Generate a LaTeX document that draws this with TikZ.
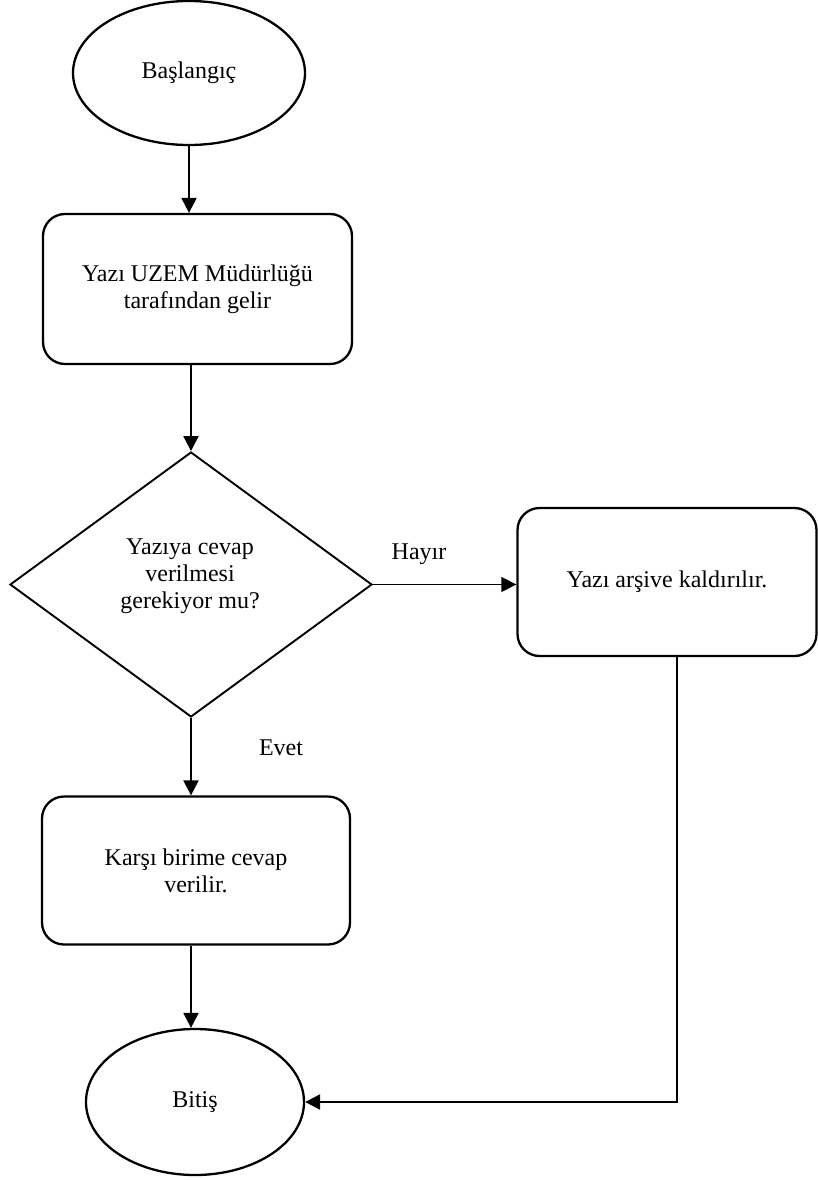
\documentclass[tikz,border=0pt]{standalone}
\usepackage{fontspec}
\setmainfont{Liberation Serif}
\usetikzlibrary{shapes.geometric,arrows.meta,calc}
\begin{document}
\begin{tikzpicture}[x=1pt,y=-1pt,
  every node/.style={font=\fontsize{24pt}{27pt}\selectfont, align=center, inner sep=0pt},
  term/.style={ellipse, draw, line width=2.3pt},
  procbox/.style={rectangle, draw, line width=2.3pt, rounded corners=22pt},
  decide/.style={diamond, draw, line width=1.9pt},
  arr/.style={line width=2.3pt, -{Triangle[length=15pt,width=15pt]}},
  thinarr/.style={line width=1.4pt, -{Triangle[length=15pt,width=15pt]}},
  lbl/.style={anchor=base}]
\useasboundingbox (0,0) rectangle (818,1180);
\node[term, minimum width=232pt, minimum height=144pt] (start) at (189,73) {Başlangıç};
\node[procbox, minimum width=309pt, minimum height=150pt] (box1) at (197.5,289) {Yazı UZEM Müdürlüğü\\tarafından gelir};
\node[decide, minimum width=362pt, minimum height=265pt] (dec) at (191,584.5) {};
\node (dectext) at (190,576) {Yazıya cevap\\verilmesi\\gerekiyor mu?};
\node[procbox, minimum width=299pt, minimum height=148pt] (box2) at (667,582) {Yazı arşive kaldırılır.};
\node[procbox, minimum width=308pt, minimum height=148pt] (box3) at (196,870.5) {Karşı birime cevap\\verilir.};
\node[term, minimum width=218pt, minimum height=146pt] (end) at (195,1102) {Bitiş};
\node[lbl] (hayir) at (419,559) {Hayır};
\node[lbl] (evet) at (281,755) {Evet};
\coordinate (turn) at ($(box2.south)+(10,0)$);
\draw[arr] (start.south) -- (start.south |- box1.north);
\draw[arr] (dec.north |- box1.south) -- (dec.north);
\draw[thinarr] (dec.east) -- (dec.east -| box2.west);
\draw[arr] (dec.south) -- (dec.south |- box3.north);
\draw[arr] (dec.south |- box3.south) -- (dec.south |- end.north);
\draw[arr] (turn) |- (end.east);
\end{tikzpicture}
\end{document}
